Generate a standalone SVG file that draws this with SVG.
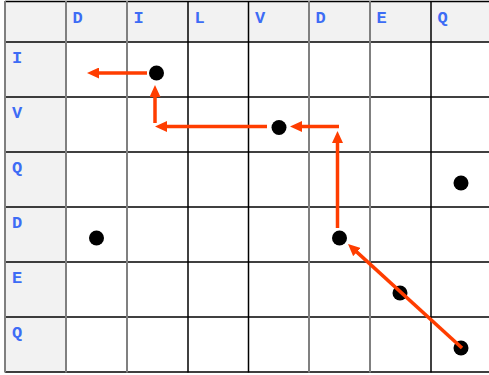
<svg xmlns="http://www.w3.org/2000/svg" width="489" height="375" viewBox="0 0 489 375">
<style>
.lbl{font-family:"Liberation Mono","Courier New",monospace;font-weight:bold;font-size:17px;fill:#3d6cf5;text-anchor:middle}
.hl{stroke:#000;stroke-width:1.5}
.vg{stroke:#808080;stroke-width:2}
.vb{stroke:#000;stroke-width:1.5}
.dot{fill:#000}
.arr{stroke:#ff3d00;stroke-width:3.5;fill:none;marker-end:url(#ah)}
</style>
<defs>
<marker id="ah" viewBox="0 0 12 11" refX="4" refY="5.5" markerWidth="12" markerHeight="11" markerUnits="userSpaceOnUse" orient="auto">
<path d="M0,0 L12,5.5 L0,11 Z" fill="#ff3d00"/>
</marker>
</defs>
<rect x="0" y="0" width="489" height="375" fill="#fff"/>
<g id="grid">
<rect x="5" y="1" width="484" height="41" fill="#f2f2f2"/>
<rect x="5" y="42" width="61" height="330" fill="#f2f2f2"/>
<line class="hl" x1="5" y1="1.5" x2="489" y2="1.5"/>
<line class="hl" x1="5" y1="42" x2="489" y2="42"/>
<line class="hl" x1="5" y1="97" x2="489" y2="97"/>
<line class="hl" x1="5" y1="152" x2="489" y2="152"/>
<line class="hl" x1="5" y1="207" x2="489" y2="207"/>
<line class="hl" x1="5" y1="262" x2="489" y2="262"/>
<line class="hl" x1="5" y1="317" x2="489" y2="317"/>
<line class="hl" x1="5" y1="372" x2="489" y2="372"/>
<line class="vg" x1="5" y1="1" x2="5" y2="372.5"/>
<line class="vg" x1="66" y1="1" x2="66" y2="372.5"/>
<line class="vg" x1="127" y1="1" x2="127" y2="372.5"/>
<line class="vb" x1="188" y1="1" x2="188" y2="372.5"/>
<line class="vb" x1="248.5" y1="1" x2="248.5" y2="372.5"/>
<line class="vg" x1="309" y1="1" x2="309" y2="372.5"/>
<line class="vg" x1="370" y1="1" x2="370" y2="372.5"/>
<line class="vb" x1="431" y1="1" x2="431" y2="372.5"/>
</g>
<g id="labels">
<text class="lbl" x="77.5" y="23">D</text>
<text class="lbl" x="138.5" y="23">I</text>
<text class="lbl" x="199.5" y="23">L</text>
<text class="lbl" x="260" y="23">V</text>
<text class="lbl" x="320.5" y="23">D</text>
<text class="lbl" x="381.5" y="23">E</text>
<text class="lbl" x="442.5" y="23">Q</text>
<text class="lbl" x="17" y="63">I</text>
<text class="lbl" x="17" y="118">V</text>
<text class="lbl" x="17" y="173">Q</text>
<text class="lbl" x="17" y="228">D</text>
<text class="lbl" x="17" y="283">E</text>
<text class="lbl" x="17" y="338">Q</text>
</g>
<g id="dots">
<circle id="n1" class="dot" cx="156.5" cy="73" r="7.5"/>
<circle id="n2" class="dot" cx="279" cy="127.5" r="7.5"/>
<circle id="n3" class="dot" cx="461" cy="183" r="7.5"/>
<circle id="n4" class="dot" cx="96.5" cy="238" r="7.5"/>
<circle id="n5" class="dot" cx="339.5" cy="238" r="7.5"/>
<circle id="n6" class="dot" cx="400" cy="293" r="7.5"/>
<circle id="n7" class="dot" cx="461" cy="348" r="7.5"/>
</g>
<g id="connectors">
<line class="arr" x1="462" y1="348" x2="353.9" y2="249.4"/>
<line class="arr" x1="337.5" y1="228" x2="337.5" y2="139"/>
<line class="arr" x1="339" y1="126.5" x2="298" y2="126.5"/>
<line class="arr" x1="267" y1="126.5" x2="163" y2="126.5"/>
<line class="arr" x1="155" y1="123" x2="155" y2="93"/>
<line class="arr" x1="147" y1="73" x2="95" y2="73"/>
</g>
</svg>
